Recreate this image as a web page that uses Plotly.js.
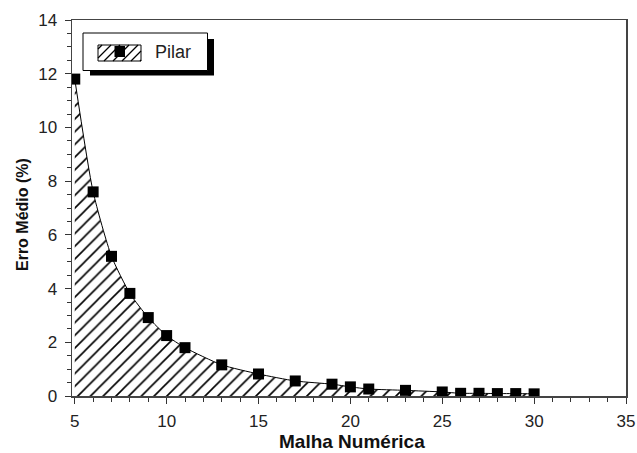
<!DOCTYPE html>
<html><head><meta charset="utf-8">
<script src="https://cdn.plot.ly/plotly-3.0.1.min.js"></script>
<style>html,body{margin:0;padding:0;background:#fff}#chart{width:637px;height:453px}</style>
</head><body><div id="chart"></div>
<script>
const malha = [5, 6, 7, 8, 9, 10, 11, 13, 15, 17, 19, 20, 21, 23, 25, 26, 27, 28, 29, 30];
const erro = [11.8, 7.6, 5.2, 3.82, 2.92, 2.25, 1.8, 1.16, 0.82, 0.56, 0.44, 0.34, 0.26, 0.21, 0.15, 0.1, 0.1, 0.09, 0.09, 0.08];
const seriesName = 'Pilar';
const xTitle = 'Malha Numérica';
const yTitle = 'Erro Médio (%)';
const xTicks = [5, 10, 15, 20, 25, 30, 35];
const yTicks = [0, 2, 4, 6, 8, 10, 12, 14];

// plot area in pixels (for legend decoration placement)
const L = 72, R = 626, T = 20, B = 396;
const W = R - L, H = B - T;
const px = v => (v - L) / W;
const py = v => (B - v) / H;
const rect = (x0, y0, x1, y1, fill, lw) => ({
  type: 'rect', xref: 'paper', yref: 'paper', layer: 'above',
  x0: px(x0), x1: px(x1), y0: py(y1), y1: py(y0),
  fillcolor: fill, line: {width: lw, color: '#000'}
});

const shapes = [];
shapes.push(rect(90, 39, 214, 75.5, '#000', 0));      // legend shadow
shapes.push(rect(83, 33, 207.5, 70.5, '#fff', 1));    // legend box
shapes.push(rect(98, 45, 141, 61, '#fff', 1));        // legend symbol box
// hatch lines inside legend symbol
for (let c = 98 + 45 + 4; c < 141 + 61; c += 9) {
  const x1 = Math.max(98, c - 61), x2 = Math.min(141, c - 45);
  if (x2 - x1 < 1) continue;
  shapes.push({type: 'line', xref: 'paper', yref: 'paper', layer: 'above',
    x0: px(x1), y0: py(c - x1), x1: px(x2), y1: py(c - x2),
    line: {color: '#000', width: 1.3}});
}
shapes.push(rect(114.5, 46, 125, 57, '#000', 0));     // legend marker

const trace = {
  x: malha, y: erro, name: seriesName, type: 'scatter', mode: 'lines+markers',
  showlegend: false,
  line: {color: '#000', width: 1, shape: 'spline', smoothing: 0.6},
  marker: {symbol: 'square', size: 11, color: '#000'},
  fill: 'tozeroy', fillcolor: 'rgba(0,0,0,0)',
  fillpattern: {shape: '/', size: 9, solidity: 0.18, fgcolor: '#000', bgcolor: '#fff'}
};

const ff = 'Liberation Sans, Arial, sans-serif';
const tickFont = {family: ff, size: 17, color: '#222'};
const layout = {
  width: 637, height: 453,
  margin: {l: L, r: 637 - R, t: T, b: 453 - B},
  paper_bgcolor: '#fff', plot_bgcolor: '#fff',
  showlegend: false,
  font: tickFont,
  xaxis: {
    range: [4.85, 35], tickvals: xTicks, ticktext: xTicks.map(String),
    ticks: 'outside', ticklen: 6, tickwidth: 1, tickcolor: '#333',
    minor: {dtick: 1, ticks: 'outside', ticklen: 4, tickcolor: '#333', showgrid: false},
    showline: true, linecolor: '#444', linewidth: 1.5, mirror: true,
    showgrid: false, zeroline: false, tickfont: tickFont, ticklabelstandoff: 3
  },
  yaxis: {
    range: [0, 14], tickvals: yTicks, ticktext: yTicks.map(String),
    ticks: 'outside', ticklen: 6, tickwidth: 1, tickcolor: '#333',
    minor: {dtick: 0.5, ticks: 'outside', ticklen: 4, tickcolor: '#333', showgrid: false},
    showline: true, linecolor: '#444', linewidth: 1.5, mirror: true,
    showgrid: false, zeroline: false, tickfont: tickFont, ticklabelstandoff: 4
  },
  shapes: shapes,
  annotations: [{
    text: seriesName, xref: 'paper', yref: 'paper', x: px(153), y: py(52),
    xanchor: 'left', yanchor: 'middle', showarrow: false,
    font: {family: ff, size: 18, color: '#222'}
  }, {
    text: yTitle, xref: 'paper', yref: 'paper', x: px(23), y: py(215),
    xanchor: 'center', yanchor: 'middle', textangle: -90, showarrow: false,
    font: {family: ff, size: 16, color: '#111', weight: 'bold'}
  }, {
    text: xTitle, xref: 'paper', yref: 'paper', x: px(352), y: py(441),
    xanchor: 'center', yanchor: 'middle', showarrow: false,
    font: {family: ff, size: 19, color: '#111', weight: 'bold'}
  }]
};
Plotly.newPlot('chart', [trace], layout, {displayModeBar: false, staticPlot: true});
</script></body></html>
